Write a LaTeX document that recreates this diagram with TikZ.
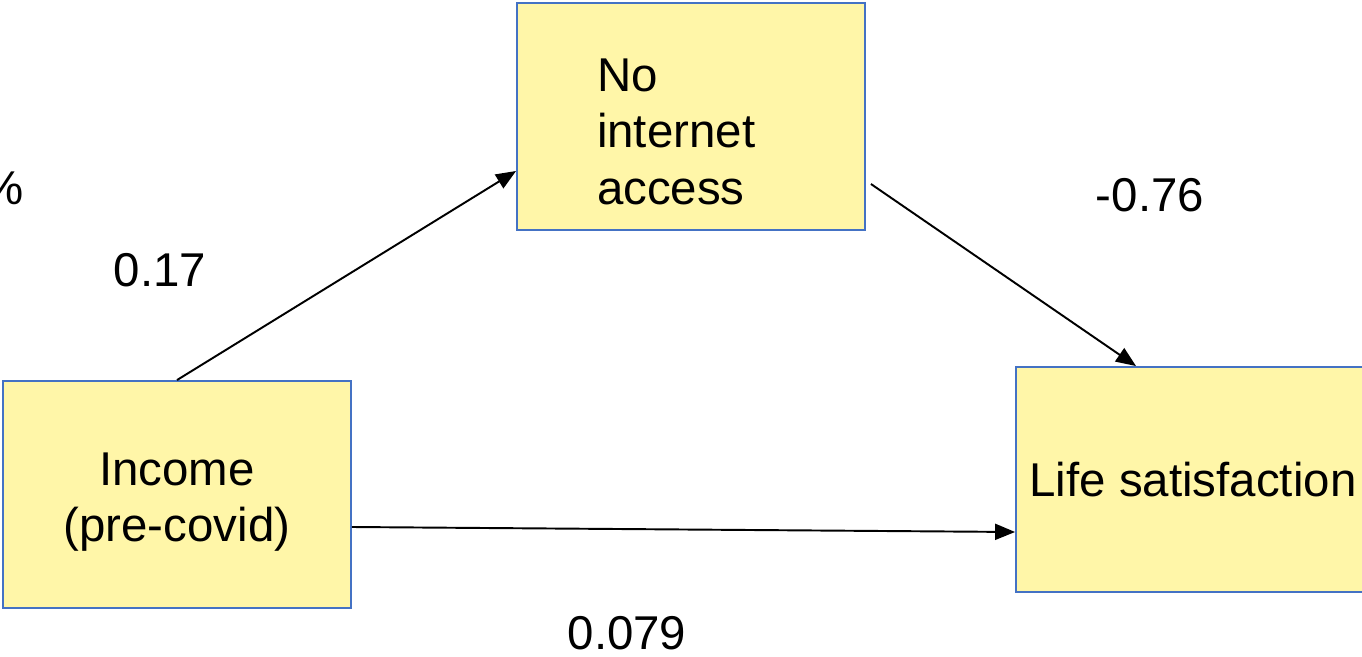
\documentclass[tikz,border=0pt]{standalone}
\usepackage{fontspec}
\setmainfont{Liberation Sans}
\usetikzlibrary{arrows.meta}

\definecolor{boxfill}{HTML}{FFF6A8}
\definecolor{boxline}{HTML}{4472C4}

\tikzset{
  varbox/.style={draw=boxline, fill=boxfill, line width=1.1pt, inner sep=0pt},
  coef/.style={inner sep=0pt},
  path/.style={-{Triangle[length=0.4cm,width=0.32cm]}, line width=1.1pt}
}

\begin{document}
\begin{tikzpicture}[x=0.02cm, y=-0.02cm, font=\fontsize{27}{32}\selectfont]
\useasboundingbox (0,0) rectangle (1362,656);

% Clipped label at the left edge
\node[coef] (pct) at (3,188) {\%};

% Mediator
\node[varbox, minimum width=6.96cm, minimum height=4.54cm, text width=3.76cm, align=left]
  (noint) at (691,116.5) {\rule{0pt}{36pt}No\\internet\\access};

% Predictor
\node[varbox, minimum width=6.96cm, minimum height=4.54cm, align=center]
  (income) at (177,494.5) {\rule{0pt}{27pt}Income\\(pre-covid)};

% Outcome
\node[varbox, minimum width=7.08cm, minimum height=4.5cm]
  (lifesat) at (1193,479.5) {Life satisfaction};

% Paths
\draw[path] (income.north) -- ([yshift=-1.09cm]noint.west);
\draw[path] ([shift={(0.1cm,-1.35cm)}]noint.east) -- ([xshift=2.42cm]lifesat.north west);
\draw[path] ([yshift=-0.65cm]income.east) -- ([yshift=-1.05cm]lifesat.west);

% Coefficients
\node[coef] (a) at (160,270) {0.17};
\node[coef] (b) at (1150,195) {-0.76};
\node[coef] (c) at (627,633) {0.079};

\end{tikzpicture}
\end{document}
